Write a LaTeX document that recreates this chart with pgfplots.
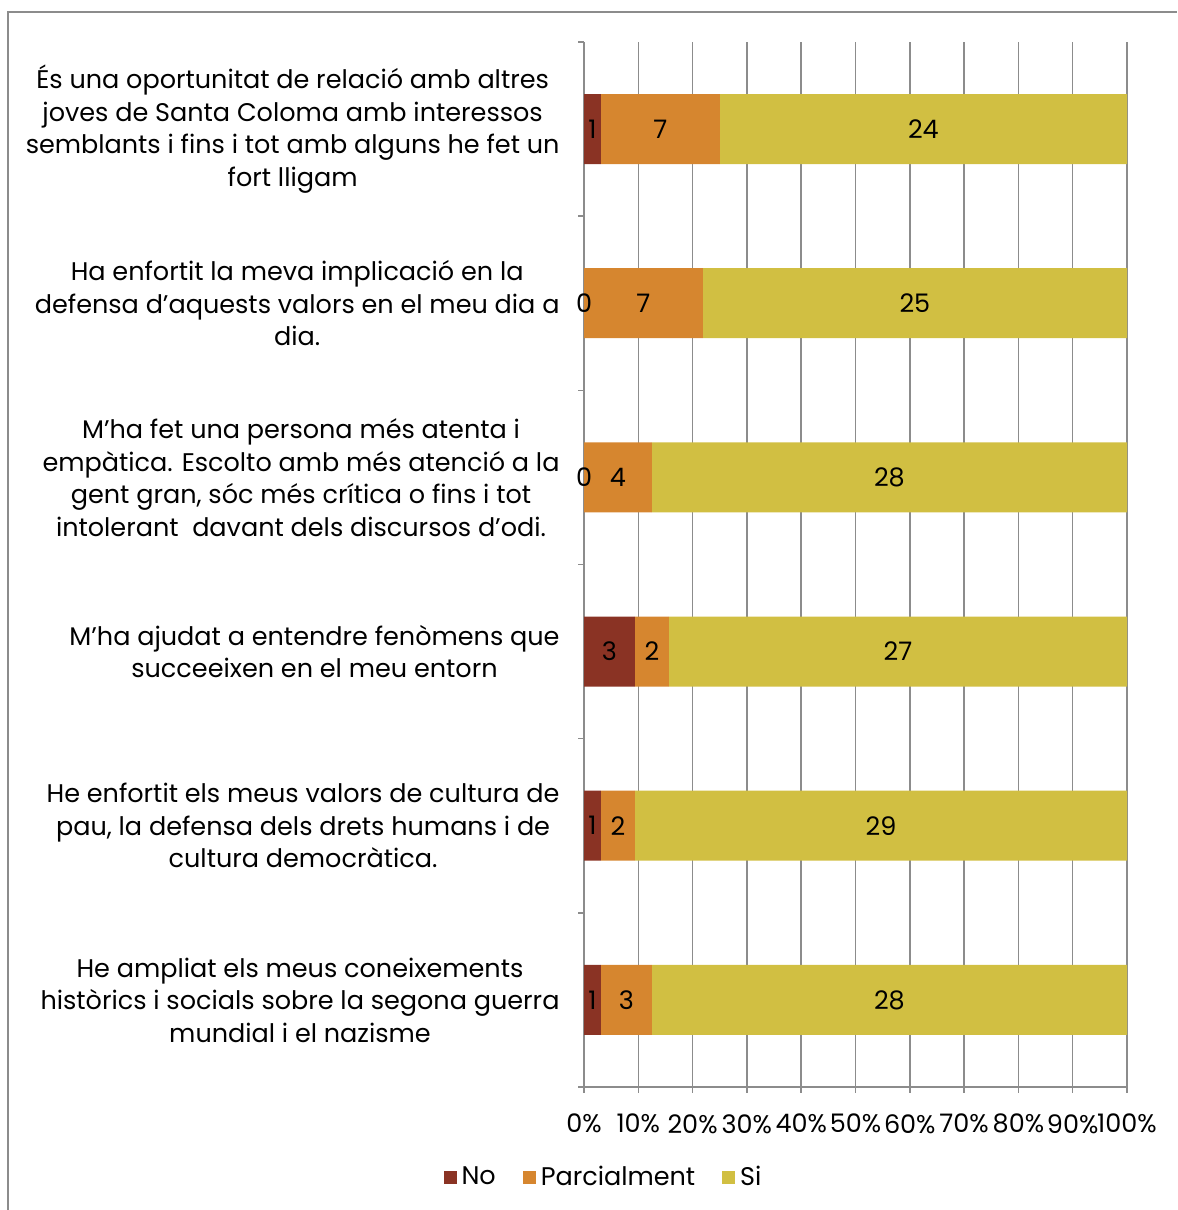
\documentclass[border=0pt]{standalone}
\usepackage{pgfplots}
\pgfplotsset{compat=1.18}
\usepackage{pgfplotstable}
\usepackage{fontspec}
\setmainfont{Poppins}

\definecolor{cNo}{HTML}{8A3324}
\definecolor{cParc}{HTML}{D6862F}
\definecolor{cSi}{HTML}{D1BF42}
\definecolor{cGrid}{HTML}{8C8C8C}

% counts per statement (0 = bottom row)
\pgfplotstableread{
y No Parc Si
0 1 3 28
1 1 2 29
2 3 2 27
3 0 4 28
4 0 7 25
5 1 7 24
}\data

\newcommand{\lbl}{\fontsize{10.2}{13}\selectfont}

\pgfplotsset{
    frame/.style={
        at={(233.6pt,49.2pt)}, anchor=south west,
        scale only axis, width=217.2pt, height=418pt,
        xmin=0, xmax=100, ymin=-0.5, ymax=5.5,
        /pgf/number format/assume math mode=true,
    },
}

\begin{document}
\begin{tikzpicture}
\useasboundingbox (0,0) rectangle (470.8pt,484pt);
\draw[cGrid, line width=0.6pt] (3.2pt,0) -- (3.2pt,479.2pt) -- (470.8pt,479.2pt);
\begin{axis}[
    frame,
    xbar stacked, bar width=28pt,
    axis lines=left,
    axis line style={-, cGrid, line width=0.6pt},
    tick align=outside,
    major tick length=2.4pt, minor tick length=2.4pt,
    tick style={cGrid, line width=0.6pt},
    major y tick style={draw=none},
    xtick={0,10,20,30,40,50,60,70,80,90,100},
    xticklabel={\pgfmathprintnumber{\tick}\%},
    xticklabel style={font=\lbl, inner sep=0pt, yshift=-8.3pt},
    ytick={0,1,2,3,4,5},
    minor ytick={-0.5,0.5,1.5,2.5,3.5,4.5,5.5},
    yticklabels={
        {He ampliat els meus coneixements\\històrics i socials sobre la segona guerra\\mundial i el nazisme},
        {He enfortit els meus valors de cultura de\\pau, la defensa dels drets humans i de\\cultura democràtica.},
        {M’ha ajudat a entendre fenòmens que\\succeeixen en el meu entorn},
        {M’ha fet una persona més atenta i\\empàtica. Escolto amb més atenció a la\\gent gran, sóc més crítica o fins i tot\\intolerant\ \ davant dels discursos d’odi.},
        {Ha enfortit la meva implicació en la\\defensa d’aquests valors en el meu dia a\\dia.},
        {És una oportunitat de relació amb altres\\joves de Santa Coloma amb interessos\\semblants i fins i tot amb alguns he fet un\\fort lligam}
    },
    yticklabel style={font=\lbl, align=center, inner sep=0pt, xshift=-7.2pt},
    xmajorgrids, grid style={cGrid, line width=0.6pt},
    every node near coord/.append style={font=\lbl, text=black, anchor=center},
    legend columns=3,
    legend style={at={(0.0387,-0.087)}, anchor=center, draw=none, font=\lbl,
        /tikz/every even column/.append style={column sep=8.8pt}},
    legend image code/.code={\fill[#1,draw=none] (0pt,-2.6pt) rectangle (5.2pt,2.6pt);},
]
\addplot[fill=cNo, draw=none]
    table[y=y, x expr={100*\thisrow{No}/(\thisrow{No}+\thisrow{Parc}+\thisrow{Si})}] {\data};
\addplot[fill=cParc, draw=none, nodes near coords, point meta={\thisrow{Parc}}]
    table[y=y, x expr={100*\thisrow{Parc}/(\thisrow{No}+\thisrow{Parc}+\thisrow{Si})}] {\data};
\addplot[fill=cSi, draw=none, nodes near coords, point meta={\thisrow{Si}}]
    table[y=y, x expr={100*\thisrow{Si}/(\thisrow{No}+\thisrow{Parc}+\thisrow{Si})}] {\data};
\legend{No, Parcialment, Si}
\end{axis}
% labels of the "No" segments (also the zero ones)
\begin{axis}[frame, hide axis, clip=false]
\addplot[draw=none, mark=none, nodes near coords, point meta={\thisrow{No}},
    every node near coord/.append style={font=\lbl, text=black, anchor=center}]
    table[y=y, x expr={50*\thisrow{No}/(\thisrow{No}+\thisrow{Parc}+\thisrow{Si})}] {\data};
\end{axis}
\end{tikzpicture}
\end{document}
